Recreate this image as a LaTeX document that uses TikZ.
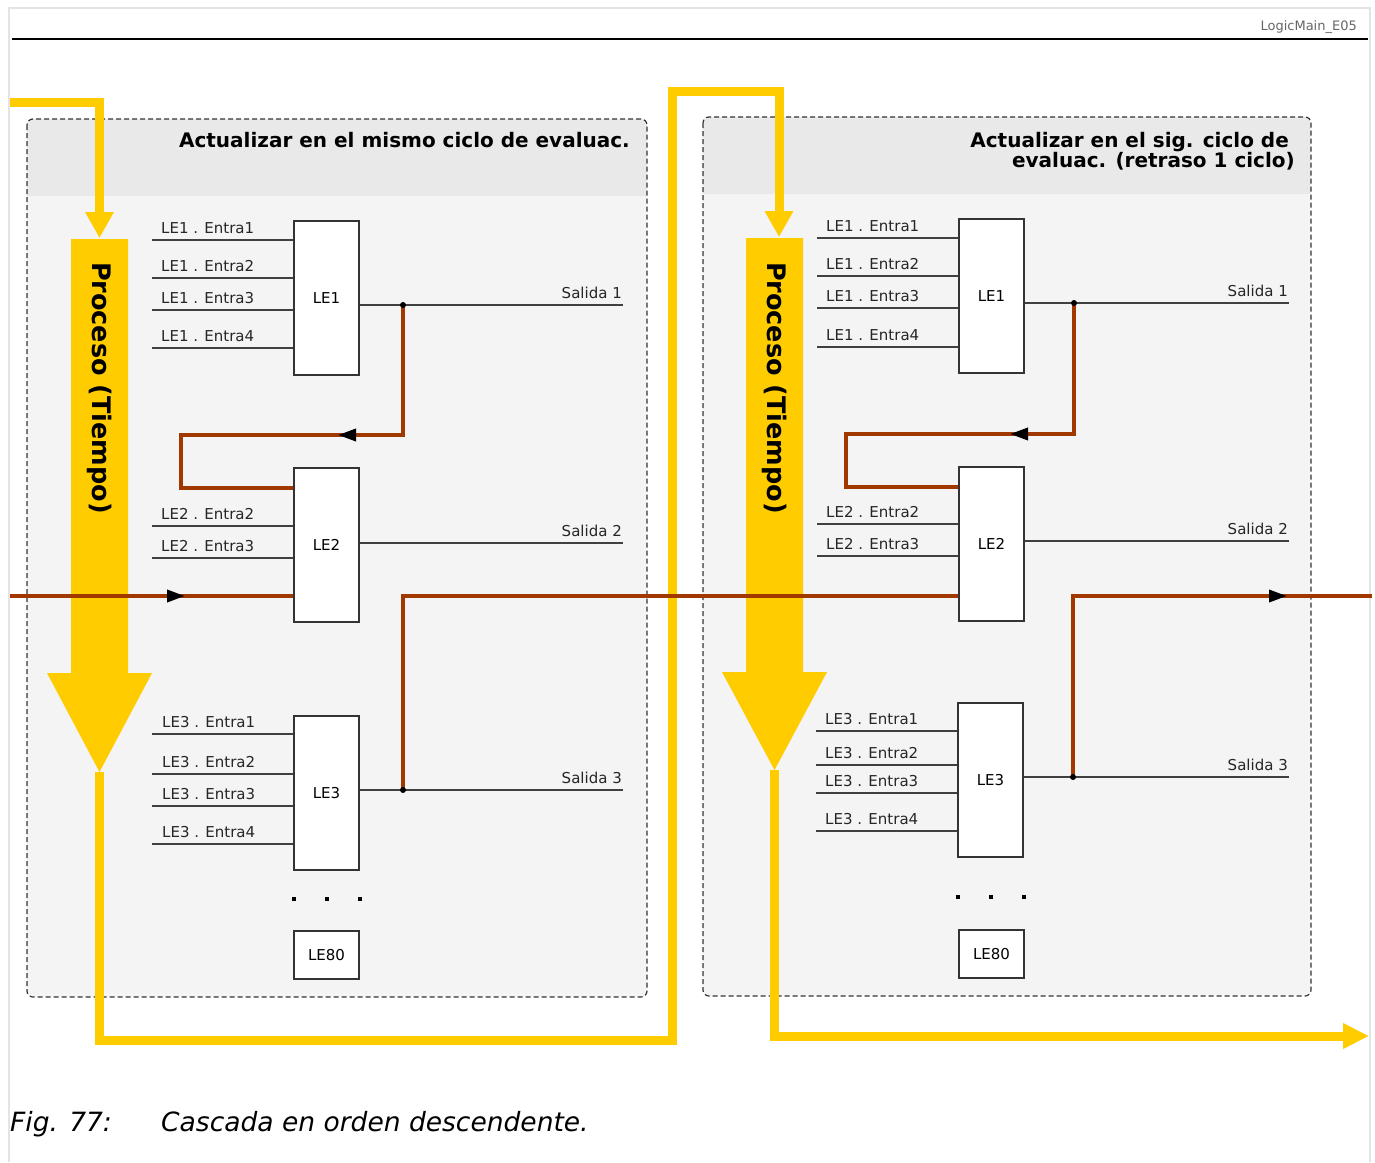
\documentclass[tikz,border=0pt]{standalone}
\usepackage{fontspec}
\setmainfont{DejaVu Sans}
\usetikzlibrary{arrows.meta,decorations.markings}
\definecolor{yel}{RGB}{255,204,0}
\definecolor{brn}{RGB}{160,56,0}
\definecolor{headgray}{RGB}{233,233,233}
\definecolor{bodygray}{RGB}{244,244,244}
\definecolor{framegray}{RGB}{228,228,228}

\begin{document}
\begin{tikzpicture}[x=1pt, y=-1pt,
  lbl/.style={font=\fontsize{15}{18}\selectfont, text=black!85, inner sep=0pt},
  lebox/.style={draw=black!80, fill=white, line width=1.5pt, minimum width=65pt, inner sep=0pt, font=\fontsize{15}{18}\selectfont},
  wire/.style={draw=black!75, line width=1.4pt},
  fb/.style={draw=brn, line width=3.5pt},
  fbarrow/.style={postaction={decorate}, decoration={markings, mark=at position #1 with {\arrow[black]{Triangle[length=18pt,width=12pt]}}}},
  flow/.style={draw=yel, line width=9pt},
  panel/.style={draw=black!80, dash pattern=on 5pt off 3pt, line width=1.2pt, rounded corners=6pt},
  ttl/.style={font=\bfseries\fontsize{20}{20}\selectfont, inner sep=0pt},
  proc/.style={rotate=-90, font=\bfseries\fontsize{25.5}{26}\selectfont, inner sep=0pt},
]
  \useasboundingbox (0,0) rectangle (1375,1162);

  % frame and header rule
  \draw[framegray, line width=2pt] (9,1162) -- (9,8) -- (1370,8) -- (1370,1162);
  \draw[line width=2pt] (12,39) -- (1368,39);
  \node[font=\fontsize{13}{15}\selectfont, text=black!60, anchor=base east, inner sep=0pt] (tag) at (1357,30) {LogicMain\_E05};

  % panels
  \fill[bodygray, rounded corners=6pt] (27,119) rectangle (647,997);
  \begin{scope}
    \clip[rounded corners=6pt] (27,119) rectangle (647,997);
    \fill[headgray] (27,119) rectangle (647,196);
  \end{scope}
  \draw[panel] (27,119) rectangle (647,997);
  \fill[bodygray, rounded corners=6pt] (703,117) rectangle (1311,996);
  \begin{scope}
    \clip[rounded corners=6pt] (703,117) rectangle (1311,996);
    \fill[headgray] (703,117) rectangle (1311,194);
  \end{scope}
  \draw[panel] (703,117) rectangle (1311,996);

  \node[ttl, anchor=base east] (ttlL) at (630,147) {Actualizar en el mismo ciclo de evaluac.};
  \node[ttl, anchor=base east] (ttlRa) at (1289,147) {Actualizar en el sig. ciclo de};
  \node[ttl, anchor=base east] (ttlRb) at (1295,167) {evaluac. (retraso 1 ciclo)};

  % process flow
  \coordinate (startL) at (10,102);
  \draw[flow, -{Triangle[length=26pt,width=27pt]}] (startL) -| (99.5,238);
  \fill[yel] (71,239) -- (128,239) -- (128,673) -- (152,673) -- (99.5,772) -- (47,673) -- (71,673) -- cycle;
  \node[proc] (procL) at (99.5,388) {Proceso (Tiempo)};
  \coordinate (tipL) at (99.5,772);
  \draw[flow, -{Triangle[length=26pt,width=27pt]}] (tipL) -- (99.5,1040) -- (672.5,1040) -- (672.5,91.5) -- (779,91.5) -- (779,237);
  \fill[yel] (746,238) -- (803,238) -- (803,672) -- (827,672) -- (774.5,770) -- (722,672) -- (746,672) -- cycle;
  \node[proc] (procR) at (774.5,388) {Proceso (Tiempo)};
  \coordinate (tipR) at (774.5,770);
  \draw[flow, -{Triangle[length=26pt,width=24pt]}] (tipR) -- (774.5,1036) -- (1369,1036);

  % left blocks
  \node[lebox, minimum height=154pt] (L1) at (326.5,298) {LE1};
  \node[lebox, minimum height=154pt] (L2) at (326.5,545) {LE2};
  \node[lebox, minimum height=154pt] (L3) at (326.5,793) {LE3};
  \node[lebox, minimum height=48pt] (L80) at (326.5,955) {LE80};

  \foreach \y/\n in {240/1, 278/2, 310/3, 348/4} {
    \draw[wire] (152,\y) -- (L1.west |- 0,\y);
    \node[lbl, anchor=base west] (L1in\n) at (161,\y-6.5) {LE1 . Entra\n};
  }
  \foreach \y/\n in {526/2, 558/3} {
    \draw[wire] (152,\y) -- (L2.west |- 0,\y);
    \node[lbl, anchor=base west] (L2in\n) at (161,\y-6.5) {LE2 . Entra\n};
  }
  \foreach \y/\n in {734/1, 774/2, 806/3, 844/4} {
    \draw[wire] (152,\y) -- (L3.west |- 0,\y);
    \node[lbl, anchor=base west] (L3in\n) at (162,\y-6.5) {LE3 . Entra\n};
  }
  \foreach \b/\y/\n in {L1/305/1, L2/543/2, L3/790/3} {
    \coordinate (\b out) at (623,\y);
    \draw[wire] (\b.east |- \b out) -- (\b out);
    \node[lbl, anchor=base east] (\b sal) at (622,\y-6.5) {Salida \n};
  }
  \foreach \x in {294,327,360}
    \fill (\x-2,897) rectangle ++(4,4);

  % right blocks
  \node[lebox, minimum height=154pt] (R1) at (991.5,296) {LE1};
  \node[lebox, minimum height=154pt] (R2) at (991.5,544) {LE2};
  \node[lebox, minimum height=154pt] (R3) at (990.5,780) {LE3};
  \node[lebox, minimum height=48pt] (R80) at (991.5,954) {LE80};

  \foreach \y/\n in {238/1, 276/2, 308/3, 347/4} {
    \draw[wire] (817,\y) -- (R1.west |- 0,\y);
    \node[lbl, anchor=base west] (R1in\n) at (826,\y-6.5) {LE1 . Entra\n};
  }
  \foreach \y/\n in {524/2, 556/3} {
    \draw[wire] (817,\y) -- (R2.west |- 0,\y);
    \node[lbl, anchor=base west] (R2in\n) at (826,\y-6.5) {LE2 . Entra\n};
  }
  \foreach \y/\n in {731/1, 765/2, 793/3, 831/4} {
    \draw[wire] (816,\y) -- (R3.west |- 0,\y);
    \node[lbl, anchor=base west] (R3in\n) at (825,\y-6.5) {LE3 . Entra\n};
  }
  \foreach \b/\y/\n in {R1/303/1, R2/541/2, R3/777/3} {
    \coordinate (\b out) at (1289,\y);
    \draw[wire] (\b.east |- \b out) -- (\b out);
    \node[lbl, anchor=base east] (\b sal) at (1288,\y-6.5) {Salida \n};
  }
  \foreach \x in {958,991,1024}
    \fill (\x-2,895) rectangle ++(4,4);

  % cascade connections
  \coordinate (jL1) at (403,305);
  \coordinate (jL3) at (403,790);
  \coordinate (jR1) at (1074,303);
  \coordinate (jR3) at (1073,777);
  \coordinate (inL) at (10,596);
  \coordinate (outR) at (1372,596);
  \draw[fb, fbarrow=195pt] (jL1) |- (181,435) |- (L2.west |- 0,488);
  \draw[fb, fbarrow=175pt] (inL) -- (L2.west |- inL);
  \draw[fb] (jL3) |- (R2.west |- 0,596);
  \draw[fb, fbarrow=195pt] (jR1) |- (846,434) |- (R2.west |- 0,487);
  \draw[fb, fbarrow=395pt] (jR3) |- (outR);
  \foreach \j in {jL1, jL3, jR1, jR3}
    \fill (\j) circle (3pt);

  % caption
  \node[font=\itshape\fontsize{26.5}{30}\selectfont, anchor=base west, inner sep=0pt] (fig) at (10,1131) {Fig. 77:};
  \node[font=\itshape\fontsize{26.5}{30}\selectfont, anchor=base west, inner sep=0pt] (cap) at (161,1131) {Cascada en orden descendente.};
\end{tikzpicture}
\end{document}
